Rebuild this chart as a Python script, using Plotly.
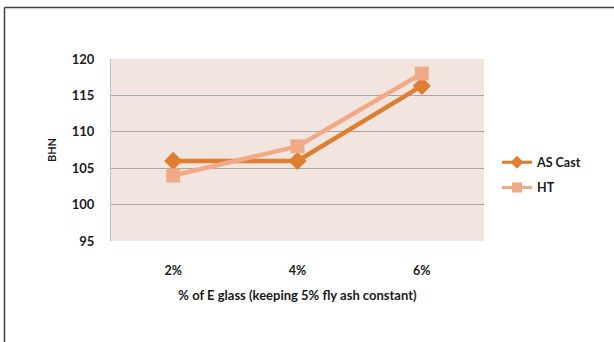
import plotly.graph_objects as go

# E glass content (fly ash fixed at 5%)
categories = ["2%", "4%", "6%"]
as_cast = [106, 106, 116.3]
heat_treated = [104, 108, 118]
y_ticks = [95, 100, 105, 110, 115, 120]

FONT = "Lato"
W, H = 614, 342
ML, MR, MT, MB = 111, 130, 59, 101
PW, PH = W - ML - MR, H - MT - MB

CAST_COLOR = "#DF7D31"
HT_COLOR = "#F1AA86"


def px_x(x):
    return (x - ML) / PW


def px_y(y):
    return 1 - (y - MT) / PH


series = [
    ("AS Cast", as_cast, CAST_COLOR, "diamond", "cast"),
    ("HT", heat_treated, HT_COLOR, "square", "ht"),
]

fig = go.Figure()
for name, values, color, symbol, group in series:
    fig.add_trace(go.Scatter(
        x=categories, y=values, name=name, mode="lines+markers",
        legendgroup=group, showlegend=False,
        line=dict(color=color, width=4.5),
        marker=dict(symbol=symbol, size=14, color=color),
    ))
    # smaller key symbol for the legend
    fig.add_trace(go.Scatter(
        x=[None], y=[None], name=name, mode="lines+markers",
        legendgroup=group, showlegend=True,
        line=dict(color=color, width=3),
        marker=dict(symbol=symbol, size=10, color=color),
    ))

fig.update_layout(
    width=W, height=H,
    margin=dict(l=ML, r=MR, t=MT, b=MB),
    paper_bgcolor="white",
    plot_bgcolor="#F2E5E0",
    font=dict(family=FONT, color="#1a1a1a", size=12),
    showlegend=True,
    legend=dict(
        x=px_x(497), y=px_y(175), xanchor="left", yanchor="middle",
        bgcolor="rgba(0,0,0,0)", tracegroupgap=6, itemwidth=30,
        font=dict(family=FONT, size=12.5, color="#1a1a1a", weight="bold"),
    ),
    xaxis=dict(
        type="category", range=[-0.5, 2.5],
        showgrid=False, zeroline=False, showline=False,
        ticks="", ticklabelstandoff=20,
        tickfont=dict(family=FONT, size=12.5, weight="bold"),
        title=dict(text="% of E glass (keeping 5% fly ash constant)",
                   font=dict(family=FONT, size=13, weight="bold"), standoff=14),
    ),
    yaxis=dict(
        range=[95, 120], tickvals=y_ticks,
        showgrid=True, gridcolor="#A6A6A6", gridwidth=1,
        zeroline=False, showline=True, linecolor="#BFBFBF", linewidth=1,
        mirror=False, ticks="", ticklabelstandoff=13,
        tickfont=dict(family=FONT, size=13, weight="bold"),
        title=dict(text="BHN", font=dict(family=FONT, size=11, weight="bold"),
                   standoff=12),
    ),
    shapes=[
        # outer frame: top and left edges
        dict(type="line", xref="paper", yref="paper",
             x0=px_x(4.5), x1=px_x(W + 2), y0=px_y(7.5), y1=px_y(7.5),
             line=dict(color="#404040", width=1.5)),
        dict(type="line", xref="paper", yref="paper",
             x0=px_x(4.5), x1=px_x(4.5), y0=px_y(H + 2), y1=px_y(7.5),
             line=dict(color="#404040", width=1.5)),
    ],
)

fig.write_html("out.html")
